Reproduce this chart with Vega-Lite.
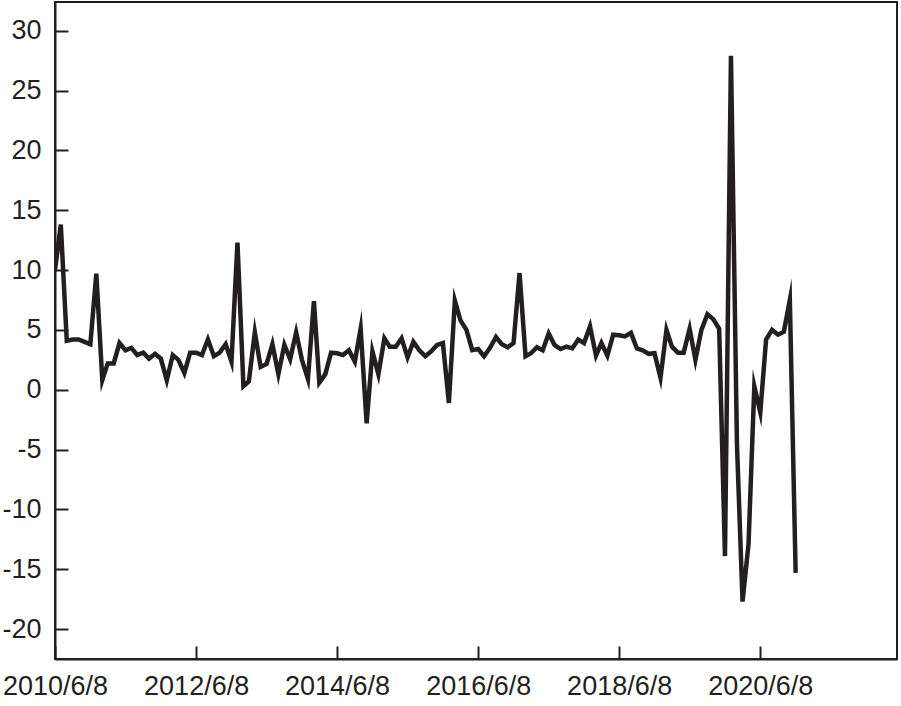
{
  "$schema": "https://vega.github.io/schema/vega-lite/v6.json",
  "width": 842,
  "height": 657,
  "autosize": "none",
  "padding": {"left": 55, "top": 2, "right": 4, "bottom": 47},
  "background": "white",
  "view": {"stroke": "#231f20", "strokeWidth": 2},
  "config": {
    "font": "Liberation Sans",
    "axis": {
      "domainColor": "#231f20",
      "domainWidth": 2,
      "tickColor": "#231f20",
      "tickWidth": 2,
      "tickSize": -13,
      "labelColor": "#231f20",
      "labelFontSize": 27,
      "labelFont": "Liberation Sans",
      "grid": false,
      "title": null
    }
  },
  "data": {
    "values": [
      {"date": "2010-06-08", "value": 10.0},
      {"date": "2010-07-08", "value": 13.8},
      {"date": "2010-08-08", "value": 4.1},
      {"date": "2010-09-08", "value": 4.2},
      {"date": "2010-10-08", "value": 4.2},
      {"date": "2010-11-08", "value": 4.0},
      {"date": "2010-12-08", "value": 3.8},
      {"date": "2011-01-08", "value": 9.7},
      {"date": "2011-02-08", "value": 0.8},
      {"date": "2011-03-08", "value": 2.2},
      {"date": "2011-04-08", "value": 2.2},
      {"date": "2011-05-08", "value": 3.9},
      {"date": "2011-06-08", "value": 3.3},
      {"date": "2011-07-08", "value": 3.5},
      {"date": "2011-08-08", "value": 2.9},
      {"date": "2011-09-08", "value": 3.1},
      {"date": "2011-10-08", "value": 2.6},
      {"date": "2011-11-08", "value": 3.0},
      {"date": "2011-12-08", "value": 2.6},
      {"date": "2012-01-08", "value": 0.8},
      {"date": "2012-02-08", "value": 2.9},
      {"date": "2012-03-08", "value": 2.5},
      {"date": "2012-04-08", "value": 1.4},
      {"date": "2012-05-08", "value": 3.1},
      {"date": "2012-06-08", "value": 3.1},
      {"date": "2012-07-08", "value": 2.9},
      {"date": "2012-08-08", "value": 4.2},
      {"date": "2012-09-08", "value": 2.8},
      {"date": "2012-10-08", "value": 3.1},
      {"date": "2012-11-08", "value": 3.8},
      {"date": "2012-12-08", "value": 2.35},
      {"date": "2013-01-08", "value": 12.3},
      {"date": "2013-02-08", "value": 0.3},
      {"date": "2013-03-08", "value": 0.7},
      {"date": "2013-04-08", "value": 4.8},
      {"date": "2013-05-08", "value": 1.9},
      {"date": "2013-06-08", "value": 2.15},
      {"date": "2013-07-08", "value": 3.8},
      {"date": "2013-08-08", "value": 1.3},
      {"date": "2013-09-08", "value": 3.75},
      {"date": "2013-10-08", "value": 2.55},
      {"date": "2013-11-08", "value": 4.8},
      {"date": "2013-12-08", "value": 2.5},
      {"date": "2014-01-08", "value": 0.9},
      {"date": "2014-02-08", "value": 7.4},
      {"date": "2014-03-08", "value": 0.6},
      {"date": "2014-04-08", "value": 1.3},
      {"date": "2014-05-08", "value": 3.1},
      {"date": "2014-06-08", "value": 3.05},
      {"date": "2014-07-08", "value": 2.9},
      {"date": "2014-08-08", "value": 3.3},
      {"date": "2014-09-08", "value": 2.35},
      {"date": "2014-10-08", "value": 5.1},
      {"date": "2014-11-08", "value": -2.8},
      {"date": "2014-12-08", "value": 3.2},
      {"date": "2015-01-08", "value": 1.3},
      {"date": "2015-02-08", "value": 4.3},
      {"date": "2015-03-08", "value": 3.6},
      {"date": "2015-04-08", "value": 3.6},
      {"date": "2015-05-08", "value": 4.3},
      {"date": "2015-06-08", "value": 2.7},
      {"date": "2015-07-08", "value": 4.0},
      {"date": "2015-08-08", "value": 3.3},
      {"date": "2015-09-08", "value": 2.8},
      {"date": "2015-10-08", "value": 3.2},
      {"date": "2015-11-08", "value": 3.75},
      {"date": "2015-12-08", "value": 3.9},
      {"date": "2016-01-08", "value": -1.1},
      {"date": "2016-02-08", "value": 7.45},
      {"date": "2016-03-08", "value": 5.8},
      {"date": "2016-04-08", "value": 5.0},
      {"date": "2016-05-08", "value": 3.3},
      {"date": "2016-06-08", "value": 3.4},
      {"date": "2016-07-08", "value": 2.8},
      {"date": "2016-08-08", "value": 3.5},
      {"date": "2016-09-08", "value": 4.4},
      {"date": "2016-10-08", "value": 3.8},
      {"date": "2016-11-08", "value": 3.55},
      {"date": "2016-12-08", "value": 3.9},
      {"date": "2017-01-08", "value": 9.75},
      {"date": "2017-02-08", "value": 2.8},
      {"date": "2017-03-08", "value": 3.05},
      {"date": "2017-04-08", "value": 3.55},
      {"date": "2017-05-08", "value": 3.3},
      {"date": "2017-06-08", "value": 4.7},
      {"date": "2017-07-08", "value": 3.75},
      {"date": "2017-08-08", "value": 3.4},
      {"date": "2017-09-08", "value": 3.6},
      {"date": "2017-10-08", "value": 3.45},
      {"date": "2017-11-08", "value": 4.2},
      {"date": "2017-12-08", "value": 3.9},
      {"date": "2018-01-08", "value": 5.3},
      {"date": "2018-02-08", "value": 2.85},
      {"date": "2018-03-08", "value": 3.9},
      {"date": "2018-04-08", "value": 2.85},
      {"date": "2018-05-08", "value": 4.6},
      {"date": "2018-06-08", "value": 4.55},
      {"date": "2018-07-08", "value": 4.45},
      {"date": "2018-08-08", "value": 4.75},
      {"date": "2018-09-08", "value": 3.45},
      {"date": "2018-10-08", "value": 3.3},
      {"date": "2018-11-08", "value": 3.0},
      {"date": "2018-12-08", "value": 3.05},
      {"date": "2019-01-08", "value": 1.0},
      {"date": "2019-02-08", "value": 5.0},
      {"date": "2019-03-08", "value": 3.6},
      {"date": "2019-04-08", "value": 3.1},
      {"date": "2019-05-08", "value": 3.1},
      {"date": "2019-06-08", "value": 5.1},
      {"date": "2019-07-08", "value": 2.5},
      {"date": "2019-08-08", "value": 5.0},
      {"date": "2019-09-08", "value": 6.3},
      {"date": "2019-10-08", "value": 5.9},
      {"date": "2019-11-08", "value": 5.1},
      {"date": "2019-12-08", "value": -13.9},
      {"date": "2020-01-08", "value": 27.9},
      {"date": "2020-02-08", "value": -4.5},
      {"date": "2020-03-08", "value": -17.7},
      {"date": "2020-04-08", "value": -12.9},
      {"date": "2020-05-08", "value": 0.3},
      {"date": "2020-06-08", "value": -1.9},
      {"date": "2020-07-08", "value": 4.2},
      {"date": "2020-08-08", "value": 5.0},
      {"date": "2020-09-08", "value": 4.6},
      {"date": "2020-10-08", "value": 4.85},
      {"date": "2020-11-08", "value": 7.5},
      {"date": "2020-12-08", "value": -15.3}
    ]
  },
  "mark": {"type": "line", "color": "#231f20", "strokeWidth": 4.5, "strokeJoin": "miter", "strokeMiterLimit": 10, "clip": true},
  "encoding": {
    "x": {
      "field": "date",
      "type": "temporal",
      "scale": {
        "type": "utc",
        "domain": [
          {"year": 2010, "month": 6, "date": 8, "utc": true},
          {"year": 2022, "month": 5, "date": 17, "utc": true}
        ],
        "nice": false
      },
      "axis": {
        "values": [
          {"year": 2010, "month": 6, "date": 8, "utc": true},
          {"year": 2012, "month": 6, "date": 8, "utc": true},
          {"year": 2014, "month": 6, "date": 8, "utc": true},
          {"year": 2016, "month": 6, "date": 8, "utc": true},
          {"year": 2018, "month": 6, "date": 8, "utc": true},
          {"year": 2020, "month": 6, "date": 8, "utc": true}
        ],
        "format": "%Y/%-m/%-d",
        "labelPadding": 27,
        "labelFlush": false,
        "labelOverlap": false
      }
    },
    "y": {
      "field": "value",
      "type": "quantitative",
      "scale": {"domain": [-22.5, 32.4], "nice": false, "zero": false},
      "axis": {
        "values": [-20, -15, -10, -5, 0, 5, 10, 15, 20, 25, 30],
        "labelExpr": "datum.value < 0 ? '-' + abs(datum.value) : '' + datum.value",
        "labelPadding": 27,
        "labelOverlap": false
      }
    }
  }
}
